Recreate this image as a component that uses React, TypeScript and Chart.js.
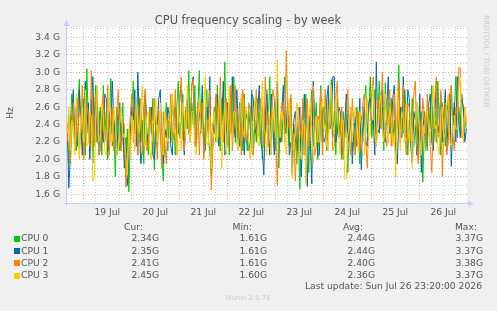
import { useEffect, useRef } from "react";
import { Chart, registerables } from "chart.js";

Chart.register(...registerables);

// ---- data ----
const TITLE = "CPU frequency scaling - by week";
const SERIES_NAMES = ["CPU 0", "CPU 1", "CPU 2", "CPU 3"];
const COLORS = ["#00CC00", "#0066B3", "#FF8000", "#FFCC00"];
// sample times: hours relative to 19 Jul 00:00
const START_HOUR = -8;
const STEP_HOURS = 0.75;
const X_MIN = -8.15;
const X_MAX = 191.85;
const DAY_LABELS = ["19 Jul", "20 Jul", "21 Jul", "22 Jul", "23 Jul", "24 Jul", "25 Jul", "26 Jul"];
const Y_TICKS = [1.5, 1.6, 1.7, 1.8, 1.9, 2.0, 2.1, 2.2, 2.3, 2.4, 2.5, 2.6, 2.7, 2.8, 2.9, 3.0, 3.1, 3.2, 3.3, 3.4, 3.5];

const CPU0 = [
  2.35, 1.95, 2.40, 2.75, 2.55, 2.15, 2.10, 2.60, 2.92, 2.25, 2.30, 2.70,
  2.05, 3.04, 2.45, 2.20, 2.70, 1.95, 2.50, 2.85, 2.20, 2.40, 2.60, 2.05,
  2.85, 2.30, 2.55, 2.00, 2.40, 2.93, 2.15, 2.45, 1.80, 2.60, 2.30, 2.10,
  2.25, 2.65, 2.00, 1.90, 2.35, 1.63, 2.20, 2.55, 2.90, 2.30, 2.50, 2.05,
  2.70, 2.20, 2.45, 1.95, 2.80, 2.35, 2.05, 2.60, 2.30, 2.70, 1.88, 2.45,
  2.15, 2.55, 2.30, 2.05, 1.75, 2.40, 2.65, 2.10, 2.50, 2.20, 2.75, 2.40,
  2.05, 2.60, 2.90, 2.25, 2.45, 2.75, 2.10, 2.55, 2.35, 3.02, 2.20, 2.65,
  2.40, 2.85, 2.15, 2.55, 3.02, 2.30, 2.70, 2.05, 2.45, 2.80, 2.25, 2.10,
  1.80, 2.35, 2.60, 2.20, 2.85, 2.45, 2.10, 2.70, 2.40, 3.12, 2.30, 2.55,
  2.05, 2.75, 2.35, 2.95, 2.20, 2.50, 2.15, 2.65, 2.40, 2.10, 2.75, 2.30,
  2.10, 2.55, 2.35, 2.80, 2.05, 2.45, 2.20, 2.70, 2.30, 2.60, 2.00, 2.45,
  2.25, 2.80, 2.40, 2.95, 2.15, 2.55, 2.35, 2.10, 2.70, 1.90, 2.45, 2.20,
  2.60, 2.95, 2.30, 2.50, 2.15, 2.70, 2.05, 2.40, 2.25, 1.95, 2.35, 1.66,
  2.30, 2.55, 2.05, 2.75, 2.25, 1.85, 2.55, 2.80, 2.15, 2.40, 2.65, 2.00,
  2.45, 2.85, 2.20, 2.60, 2.35, 2.10, 2.75, 2.40, 2.92, 2.25, 2.55, 2.05,
  2.70, 2.30, 2.45, 2.00, 2.55, 2.25, 2.65, 1.85, 2.35, 2.50, 2.10, 2.40,
  2.05, 2.60, 2.30, 1.95, 2.50, 2.20, 2.65, 2.85, 2.30, 2.55, 2.95, 2.25,
  2.50, 2.80, 2.15, 2.45, 2.90, 2.35, 2.60, 2.10, 2.88, 2.40, 2.65, 2.30,
  2.70, 2.20, 2.45, 2.10, 2.55, 3.08, 2.35, 2.60, 2.30, 2.80, 2.50, 2.05,
  2.45, 2.25, 2.70, 2.15, 2.40, 2.65, 2.00, 2.45, 2.55, 1.74, 2.30, 2.50,
  2.10, 2.60, 2.35, 2.85, 2.15, 2.55, 2.20, 2.90, 2.40, 2.05, 2.65, 2.45,
  2.15, 2.50, 2.70, 2.30, 2.85, 2.40, 2.55, 2.95, 2.25, 2.60, 2.40, 2.75,
  2.55, 2.45, 2.34,
];
const CPU1 = [
  2.40, 1.67, 2.05, 2.45, 2.80, 2.25, 2.60, 2.15, 2.80, 2.40, 2.05, 2.50,
  2.90, 2.30, 2.65, 2.00, 2.45, 2.95, 2.35, 2.20, 2.70, 2.05, 2.55, 2.35,
  2.20, 2.75, 2.70, 2.10, 2.55, 2.30, 2.90, 2.45, 2.25, 2.05, 2.45, 2.65,
  2.10, 2.40, 1.90, 2.25, 1.70, 2.05, 2.30, 2.60, 2.45, 2.80, 2.15, 3.00,
  2.45, 1.95, 2.10, 2.60, 2.75, 2.30, 2.20, 2.55, 2.60, 2.05, 2.00, 2.45,
  2.40, 2.70, 2.80, 2.20, 1.95, 2.35, 2.25, 2.60, 2.50, 2.15, 2.05, 2.55,
  2.60, 2.25, 2.30, 2.70, 2.85, 2.40, 2.05, 2.55, 2.70, 2.30, 2.40, 2.85,
  2.95, 2.20, 2.15, 2.65, 2.55, 2.35, 2.85, 2.10, 2.10, 2.60, 2.45, 2.95,
  2.00, 2.40, 2.30, 2.70, 2.75, 2.15, 2.55, 2.45, 2.90, 2.05, 2.10, 2.65,
  2.60, 2.30, 2.95, 2.40, 2.25, 2.80, 2.40, 2.15, 2.70, 2.45, 2.05, 2.55,
  2.45, 2.10, 2.20, 2.75, 2.70, 2.30, 2.35, 2.60, 2.85, 2.20, 2.10, 1.82,
  2.50, 2.75, 2.30, 2.05, 2.75, 2.40, 2.05, 2.60, 2.90, 2.25, 2.20, 2.55,
  2.85, 2.30, 2.40, 2.65, 2.05, 2.20, 1.82, 2.45, 2.55, 2.10, 2.30, 2.60,
  1.80, 2.35, 2.75, 2.15, 1.69, 2.50, 2.20, 1.72, 2.90, 2.40, 2.35, 2.05,
  2.05, 2.55, 2.60, 2.20, 2.25, 2.70, 2.85, 2.35, 2.40, 2.95, 2.95, 2.20,
  2.30, 2.60, 2.55, 2.15, 2.05, 2.40, 2.75, 2.30, 2.20, 2.60, 1.95, 2.30,
  2.50, 2.15, 2.25, 2.70, 1.88, 2.35, 2.60, 2.20, 2.15, 2.65, 2.70, 2.40,
  2.45, 2.05, 3.12, 2.35, 2.30, 2.75, 2.80, 2.25, 2.20, 2.60, 2.95, 2.30,
  2.40, 2.70, 2.85, 2.10, 1.95, 2.45, 2.60, 2.25, 2.95, 2.40, 2.25, 2.80,
  2.70, 2.15, 1.95, 2.55, 2.45, 2.05, 2.20, 2.75, 1.85, 2.30, 2.55, 2.15,
  2.30, 2.65, 2.75, 2.20, 2.10, 2.50, 2.90, 2.30, 2.40, 2.75, 2.20, 2.45,
  2.80, 2.10, 2.50, 2.75, 1.92, 2.40, 2.65, 2.20, 2.95, 2.45, 2.25, 2.70,
  2.60, 2.20, 2.35,
];
const CPU2 = [
  2.20, 2.50, 1.95, 2.30, 2.65, 2.10, 2.40, 2.70, 2.05, 2.35, 2.85, 2.00,
  2.30, 2.60, 2.55, 2.15, 3.02, 2.40, 2.15, 2.75, 2.45, 2.05, 2.10, 2.50,
  2.75, 2.20, 2.35, 2.85, 2.05, 2.40, 2.60, 2.10, 2.25, 2.55, 2.80, 2.30,
  2.10, 2.45, 2.40, 1.68, 1.85, 2.20, 2.50, 2.75, 2.20, 2.35, 2.65, 2.05,
  2.35, 2.70, 2.05, 2.45, 2.80, 2.10, 2.15, 2.60, 2.45, 2.20, 2.70, 2.35,
  2.00, 2.55, 2.30, 1.90, 2.55, 2.20, 1.95, 2.45, 2.40, 2.75, 2.20, 2.30,
  2.80, 2.05, 2.45, 2.70, 2.95, 2.25, 2.10, 2.60, 2.55, 2.30, 2.25, 2.85,
  2.92, 2.15, 2.40, 2.65, 2.05, 2.50, 2.65, 2.00, 2.20, 2.45, 2.30, 2.80,
  1.65, 2.10, 2.35, 2.75, 2.60, 2.25, 2.95, 2.40, 2.20, 2.65, 2.70, 2.15,
  2.45, 2.85, 2.10, 2.40, 2.85, 2.25, 2.35, 2.60, 2.05, 2.80, 2.65, 2.20,
  2.30, 2.65, 2.55, 2.10, 2.05, 2.45, 2.80, 2.30, 2.25, 2.70, 2.60, 2.15,
  2.95, 2.35, 2.15, 2.50, 2.45, 2.80, 2.70, 2.25, 1.70, 2.35, 2.40, 2.65,
  2.65, 2.20, 3.25, 2.45, 2.35, 2.75, 2.10, 2.30, 1.75, 2.15, 2.60, 2.35,
  2.25, 2.70, 2.05, 2.40, 2.70, 2.15, 2.40, 2.60, 2.85, 2.05, 2.15, 2.50,
  2.45, 2.80, 2.05, 2.35, 2.80, 2.20, 2.30, 2.65, 2.60, 2.10, 2.15, 2.70,
  2.90, 2.25, 2.35, 2.60, 2.00, 2.30, 2.50, 2.80, 2.25, 2.05, 2.70, 2.35,
  2.05, 2.40, 2.55, 2.10, 2.30, 2.65, 2.75, 2.20, 1.90, 2.45, 2.45, 2.75,
  2.95, 2.30, 2.20, 2.70, 2.60, 2.35, 3.00, 2.50, 2.30, 2.15, 2.55, 2.80,
  2.15, 2.45, 2.75, 2.20, 2.40, 2.90, 2.20, 2.55, 2.85, 2.30, 2.05, 2.65,
  2.60, 2.20, 2.35, 2.75, 2.90, 2.15, 1.95, 2.45, 2.25, 2.70, 2.50, 2.10,
  2.75, 2.35, 2.15, 1.85, 2.40, 2.70, 2.95, 2.25, 2.30, 2.80, 1.80, 2.40,
  2.65, 2.05, 2.20, 2.75, 2.85, 2.30, 2.10, 2.60, 2.50, 3.05, 3.05, 2.25,
  2.30, 2.60, 2.41,
];
const CPU3 = [
  2.30, 2.60, 2.10, 2.45, 2.40, 2.05, 2.75, 2.35, 2.00, 2.50, 2.60, 2.20,
  2.80, 2.15, 2.20, 2.55, 2.50, 1.75, 1.80, 2.40, 2.85, 2.20, 2.30, 2.65,
  2.50, 2.10, 2.05, 2.45, 2.70, 2.30, 2.20, 2.60, 2.45, 2.05, 2.10, 2.40,
  2.60, 2.25, 2.30, 2.05, 1.82, 2.35, 2.05, 2.50, 2.40, 2.10, 2.70, 2.45,
  2.30, 2.60, 2.85, 2.20, 2.15, 2.50, 2.55, 2.10, 2.00, 2.45, 2.40, 2.70,
  2.20, 2.35, 2.65, 2.10, 2.05, 2.55, 2.45, 2.20, 2.25, 2.60, 2.75, 2.30,
  2.35, 2.05, 2.60, 2.40, 2.10, 2.65, 2.50, 2.25, 2.85, 2.40, 2.20, 2.55,
  2.55, 2.15, 2.05, 2.45, 2.70, 2.35, 2.30, 2.60, 2.95, 2.20, 2.15, 2.50,
  1.90, 2.40, 2.55, 2.25, 2.20, 2.60, 2.70, 1.90, 2.40, 2.65, 2.05, 2.45,
  2.85, 2.30, 2.30, 2.55, 2.55, 2.15, 2.10, 2.45, 2.75, 2.35, 2.25, 2.60,
  2.50, 2.15, 2.00, 2.40, 2.45, 2.70, 2.65, 2.20, 2.15, 2.50, 2.90, 2.35,
  2.30, 2.05, 2.55, 2.45, 2.05, 2.60, 2.40, 2.25, 3.14, 2.40, 2.25, 2.55,
  2.45, 2.20, 2.05, 2.50, 2.70, 2.35, 1.78, 2.20, 2.30, 2.65, 2.55, 2.10,
  2.00, 2.45, 2.40, 1.72, 2.25, 2.50, 2.65, 2.35, 1.95, 2.30, 2.50, 2.20,
  2.20, 2.55, 2.70, 2.35, 2.40, 2.15, 2.10, 2.60, 2.85, 2.40, 2.30, 2.70,
  2.55, 2.25, 2.05, 2.45, 2.45, 1.77, 1.78, 2.30, 2.35, 2.60, 2.20, 2.45,
  2.60, 2.35, 2.10, 2.55, 2.40, 2.05, 2.05, 2.50, 2.70, 2.25, 2.30, 2.65,
  2.85, 2.30, 2.15, 2.40, 2.55, 2.75, 2.35, 2.20, 2.75, 2.45, 2.20, 2.60,
  2.50, 2.15, 2.30, 1.80, 2.80, 2.45, 2.10, 2.55, 2.45, 2.20, 2.65, 2.35,
  2.20, 2.50, 1.90, 2.30, 2.40, 2.65, 2.60, 2.25, 2.05, 2.40, 2.30, 2.55,
  2.55, 2.30, 2.20, 2.60, 2.85, 2.35, 2.40, 2.15, 2.05, 2.50, 2.60, 2.25,
  2.30, 2.65, 2.75, 2.20, 2.15, 2.50, 2.50, 2.35, 2.35, 2.80, 2.95, 2.40,
  2.20, 2.60, 2.45,
];
const SERIES = [CPU0, CPU1, CPU2, CPU3];

const CUR = ["2.34G", "2.35G", "2.41G", "2.45G"];
const MIN = ["1.61G", "1.61G", "1.61G", "1.60G"];
const AVG = ["2.44G", "2.44G", "2.40G", "2.36G"];
const MAX = ["3.37G", "3.37G", "3.38G", "3.37G"];
const LAST_UPDATE = "Last update: Sun Jul 26 23:20:00 2026";
const VERSION = "Munin 2.0.76";
const SIDE_TEXT = "RRDTOOL / TOBI OETIKER";
const Y_TITLE = "Hz";

const FONT = "'DejaVu Sans', sans-serif";
const TEXT = "#555555";
const GRID_MINOR = "#c8c8c8";
const GRID_MAJOR = "#e8a0a0";
const AXIS = "#c8cdf5";

const isMajorY = (v: number) => Math.round(v * 10) % 2 === 0;

const decorPlugin = {
  id: "munin",
  beforeDraw(chart: any) {
    const { ctx, chartArea: a } = chart;
    ctx.save();
    ctx.fillStyle = "#F0F0F0";
    ctx.fillRect(0, 0, chart.width, chart.height);
    ctx.fillStyle = "#FFFFFF";
    ctx.fillRect(a.left, a.top, a.right - a.left, a.bottom - a.top);
    ctx.restore();
  },
  afterDraw(chart: any) {
    const { ctx, chartArea: a } = chart;
    ctx.save();
    // axes with arrows
    ctx.strokeStyle = AXIS;
    ctx.fillStyle = AXIS;
    ctx.lineWidth = 1;
    ctx.beginPath();
    ctx.moveTo(a.left - 0.5, a.bottom + 3);
    ctx.lineTo(a.left - 0.5, a.top - 2);
    ctx.moveTo(a.left - 3, a.bottom + 0.5);
    ctx.lineTo(a.right + 2, a.bottom + 0.5);
    ctx.stroke();
    ctx.beginPath();
    ctx.moveTo(a.left - 3.5, a.top - 1);
    ctx.lineTo(a.left + 2.5, a.top - 1);
    ctx.lineTo(a.left - 0.5, a.top - 7);
    ctx.closePath();
    ctx.fill();
    ctx.beginPath();
    ctx.moveTo(a.right + 1, a.bottom - 2.5);
    ctx.lineTo(a.right + 1, a.bottom + 3.5);
    ctx.lineTo(a.right + 7, a.bottom + 0.5);
    ctx.closePath();
    ctx.fill();

    // title
    ctx.fillStyle = TEXT;
    ctx.font = `11.4px ${FONT}`;
    ctx.textAlign = "center";
    ctx.textBaseline = "middle";
    ctx.fillText(TITLE, 248, 21);

    // y title
    ctx.save();
    ctx.translate(11, 113);
    ctx.rotate(-Math.PI / 2);
    ctx.font = `9.2px ${FONT}`;
    ctx.fillText(Y_TITLE, 0, 0);
    ctx.restore();

    // side text
    ctx.save();
    ctx.translate(486, 15);
    ctx.rotate(Math.PI / 2);
    ctx.fillStyle = "#cccccc";
    ctx.font = `7.2px ${FONT}`;
    ctx.textAlign = "left";
    ctx.fillText(SIDE_TEXT, 0, 0);
    ctx.restore();

    // legend
    ctx.font = `9.2px ${FONT}`;
    ctx.textAlign = "right";
    ctx.fillStyle = TEXT;
    const headX = [143, 252, 363, 477];
    const valX = [159, 267, 375, 483];
    const heads = ["Cur:", "Min:", "Avg:", "Max:"];
    heads.forEach((h, i) => ctx.fillText(h, headX[i], 227.5));
    const rowY = [239, 251.2, 263.4, 275.6];
    const cols = [CUR, MIN, AVG, MAX];
    SERIES_NAMES.forEach((name, r) => {
      ctx.fillStyle = COLORS[r];
      ctx.fillRect(14, Math.round(rowY[r]) - 3, 6, 6);
      ctx.fillStyle = TEXT;
      ctx.textAlign = "left";
      ctx.fillText(name, 21, rowY[r]);
      ctx.textAlign = "right";
      cols.forEach((c, k) => ctx.fillText(c[r], valX[k], rowY[r]));
    });
    ctx.fillText(LAST_UPDATE, 482, 287);

    ctx.fillStyle = "#cccccc";
    ctx.font = `6.9px ${FONT}`;
    ctx.textAlign = "center";
    ctx.fillText(VERSION, 248, 298);
    ctx.restore();
  },
};

export default function App() {
  const ref = useRef<HTMLCanvasElement | null>(null);
  useEffect(() => {
    if (!ref.current) return;
    const chart = new Chart(ref.current, {
      type: "line",
      data: {
        datasets: SERIES.map((vals, s) => ({
          label: SERIES_NAMES[s],
          data: vals.map((v, i) => ({ x: START_HOUR + i * STEP_HOURS, y: v })),
          borderColor: COLORS[s],
          backgroundColor: COLORS[s],
          borderWidth: 1,
          pointRadius: 0,
          tension: 0,
          fill: false,
          order: 4 - s,
        })),
      },
      options: {
        responsive: false,
        animation: false,
        devicePixelRatio: 1,
        layout: { padding: { left: 0, right: 30, top: 27, bottom: 88 } },
        plugins: {
          legend: { display: false },
          tooltip: { enabled: false },
          title: { display: false },
        },
        scales: {
          x: {
            type: "linear",
            min: X_MIN,
            max: X_MAX,
            afterBuildTicks: (scale: any) => {
              const t = [];
              for (let h = -6; h <= 186; h += 6) t.push({ value: h });
              scale.ticks = t;
            },
            afterFit: (scale: any) => {
              scale.height = 20;
            },
            ticks: {
              autoSkip: false,
              maxRotation: 0,
              padding: 4,
              color: TEXT,
              font: { family: FONT, size: 9.2 },
              callback: (v: any) => {
                const h = Number(v);
                if (((h % 24) + 24) % 24 === 12) return DAY_LABELS[(h - 12) / 24] ?? "";
                return "";
              },
            },
            grid: {
              drawTicks: false,
              lineWidth: 1,
              color: (c: any) => (c.tick && c.tick.value % 24 === 0 ? GRID_MAJOR : GRID_MINOR),
            },
            border: { display: false, dash: [1, 2] },
          },
          y: {
            type: "linear",
            min: 1.5,
            max: 3.52,
            afterBuildTicks: (scale: any) => {
              scale.ticks = Y_TICKS.map((v) => ({ value: v }));
            },
            afterFit: (scale: any) => {
              scale.width = 67;
            },
            ticks: {
              autoSkip: false,
              padding: 7,
              color: TEXT,
              font: { family: FONT, size: 9.2 },
              callback: (v: any) => (isMajorY(Number(v)) && Number(v) > 1.55 ? Number(v).toFixed(1) + " G" : ""),
            },
            grid: {
              drawTicks: false,
              lineWidth: 1,
              color: (c: any) => (c.tick && isMajorY(c.tick.value) && c.tick.value > 1.55 ? GRID_MAJOR : GRID_MINOR),
            },
            border: { display: false, dash: [1, 2] },
          },
        },
      },
      plugins: [decorPlugin],
    } as any);
    return () => chart.destroy();
  }, []);
  return (
    <div style={{ position: "fixed", left: 0, top: 0, width: 497, height: 311, background: "#F0F0F0" }}>
      <canvas ref={ref} width={497} height={311} style={{ display: "block" }} />
    </div>
  );
}
